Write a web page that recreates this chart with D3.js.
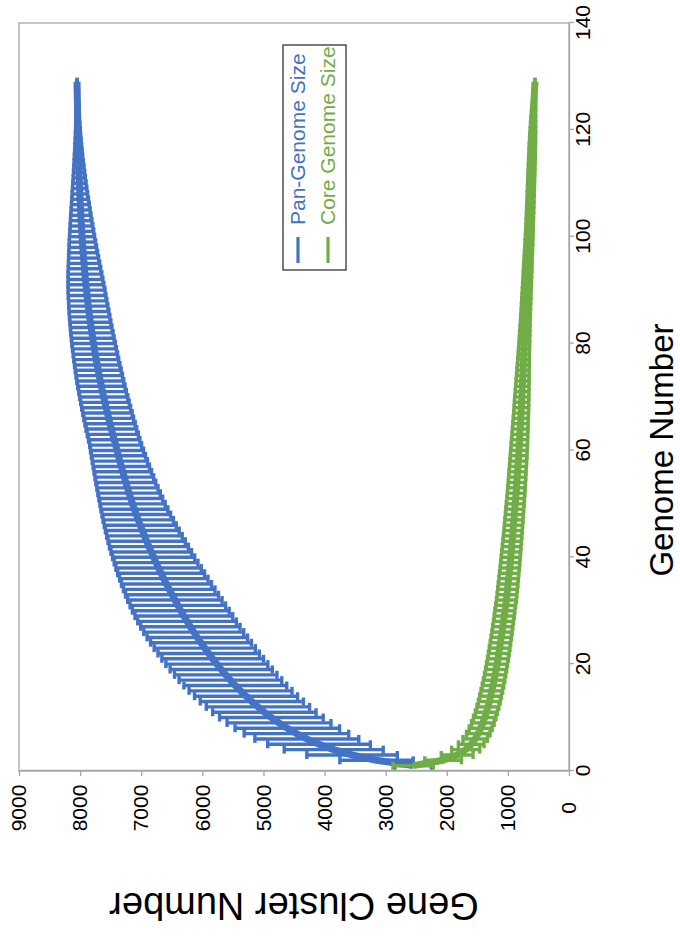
<!DOCTYPE html>
<html>
<head>
<meta charset="utf-8">
<title>Pan / Core Genome</title>
<script src="https://d3js.org/d3.v7.min.js"></script>
<style>
  body { margin: 0; background: #fff; }
  text { font-family: "Liberation Sans", Arial, sans-serif; }
</style>
</head>
<body>
<div id="home"></div>
<script>
// genome count 1..129 for every array below
const panMean = [
  2550, 3150, 3550, 3850, 4090, 4290, 4460, 4610, 4745, 4870,
  4985, 5090, 5190, 5285, 5375, 5460, 5540, 5617, 5691, 5762,
  5830, 5896, 5960, 6022, 6082, 6140, 6196, 6250, 6302, 6352,
  6401, 6449, 6496, 6542, 6587, 6631, 6674, 6716, 6757, 6797,
  6836, 6874, 6911, 6947, 6982, 7016, 7049, 7081, 7112, 7142,
  7171, 7199, 7226, 7252, 7277, 7302, 7326, 7350, 7373, 7396,
  7418, 7442, 7465, 7488, 7510, 7532, 7553, 7574, 7594, 7614,
  7633, 7652, 7670, 7687, 7704, 7720, 7736, 7751, 7766, 7780,
  7794, 7807, 7820, 7832, 7844, 7855, 7866, 7876, 7886, 7895,
  7904, 7913, 7921, 7929, 7936, 7943, 7950, 7956, 7962, 7968,
  7973, 7978, 7983, 7988, 7992, 7996, 8000, 8004, 8008, 8011,
  8014, 8017, 8020, 8023, 8026, 8028, 8030, 8032, 8034, 8036,
  8038, 8040, 8041, 8043, 8044, 8046, 8047, 8049, 8050
];
const panErr = [
  300, 600, 740, 810, 840, 850, 855, 855, 850, 848,
  846, 845, 844, 843, 842, 841, 840, 838, 836, 834,
  832, 830, 828, 825, 822, 818, 813, 807, 800, 792,
  782, 772, 761, 749, 737, 724, 711, 698, 685, 672,
  659, 646, 632, 618, 604, 590, 576, 562, 548, 534,
  522, 511, 500, 490, 480, 470, 461, 452, 443, 434,
  425, 421, 418, 414, 411, 407, 404, 400, 397, 394,
  390, 387, 384, 380, 376, 372, 368, 364, 360, 356,
  351, 346, 341, 336, 331, 326, 320, 314, 308, 302,
  294, 285, 276, 266, 256, 246, 236, 226, 216, 206,
  196, 186, 176, 166, 156, 146, 136, 127, 118, 109,
  100, 92, 84, 76, 69, 62, 56, 50, 44, 39,
  34, 29, 24, 20, 16, 12, 8, 4, 0
];
const coreMean = [
  2550, 2060, 1830, 1690, 1600, 1535, 1485, 1445, 1410, 1380,
  1352, 1327, 1304, 1283, 1263, 1244, 1226, 1209, 1193, 1178,
  1163, 1149, 1135, 1122, 1109, 1096, 1084, 1072, 1060, 1049,
  1036, 1024, 1015, 1006, 997, 988, 979, 970, 962, 954,
  946, 938, 930, 922, 915, 908, 901, 894, 887, 880,
  873, 866, 860, 854, 848, 842, 836, 830, 824, 819,
  814, 809, 804, 799, 794, 789, 784, 780, 776, 772,
  768, 764, 760, 756, 752, 748, 744, 740, 736, 732,
  728, 724, 720, 716, 712, 708, 704, 700, 696, 692,
  688, 684, 680, 676, 672, 668, 664, 660, 656, 652,
  648, 645, 642, 639, 636, 633, 630, 627, 624, 621,
  618, 615, 612, 609, 606, 603, 600, 597, 594, 591,
  588, 585, 582, 578, 574, 570, 566, 561, 556
];
const coreErr = [
  330, 300, 260, 230, 210, 200, 192, 188, 185, 183,
  181, 180, 179, 178, 177, 176, 175, 174, 173, 172,
  171, 170, 169, 168, 167, 166, 165, 165, 164, 164,
  163, 163, 162, 162, 161, 160, 159, 158, 157, 156,
  155, 154, 153, 152, 151, 150, 149, 148, 147, 146,
  145, 144, 143, 142, 141, 140, 139, 138, 137, 136,
  134, 132, 130, 128, 126, 124, 122, 120, 118, 116,
  113, 110, 107, 104, 101, 98, 95, 92, 90, 88,
  86, 84, 82, 80, 78, 77, 76, 75, 74, 73,
  72, 71, 70, 69, 68, 67, 66, 65, 64, 63,
  62, 61, 60, 60, 59, 59, 58, 58, 57, 57,
  56, 56, 55, 55, 54, 53, 52, 50, 48, 46,
  43, 40, 36, 32, 27, 21, 15, 8, 0
];
const xTicks = [0, 20, 40, 60, 80, 100, 120, 140];
const yTicks = [0, 1000, 2000, 3000, 4000, 5000, 6000, 7000, 8000, 9000];
const seriesNames = ["Pan-Genome Size", "Core Genome Size"];
const colors = ["#4472C4", "#70AD47"];

const pageW = 680, pageH = 937;
const svg = d3.select("#home").append("svg")
  .attr("width", pageW)
  .attr("height", pageH);

// chart is drawn upright in a 937 x 680 frame, then turned a quarter left
const g = svg.append("g")
  .attr("transform", "translate(0," + pageH + ") rotate(-90)");

const x = d3.scaleLinear().domain([0, 140]).range([166, 914]);
const y = d3.scaleLinear().domain([0, 9000]).range([569, 19]);

// plot area border
g.append("rect")
  .attr("x", x(0)).attr("y", y(9000))
  .attr("width", x(140) - x(0)).attr("height", y(0) - y(9000))
  .attr("fill", "none").attr("stroke", "#a6a6a6").attr("stroke-width", 1.3);

const xAxis = d3.axisBottom(x).tickValues(xTicks).tickSize(5).tickSizeOuter(0)
  .tickFormat(d3.format("d"));
const gx = g.append("g").attr("transform", "translate(0," + y(0) + ")").call(xAxis);
gx.selectAll("text")
  .attr("y", 6.5)
  .attr("font-size", 21).attr("fill", "#000")
  .style("font-family", "'Liberation Sans', Arial, sans-serif");

const yAxis = d3.axisLeft(y).tickValues(yTicks).tickSize(5).tickSizeOuter(0)
  .tickFormat(d3.format("d"));
const gy = g.append("g").attr("transform", "translate(" + x(0) + ",0)").call(yAxis);
gy.selectAll("text")
  .attr("x", -37).attr("text-anchor", "middle")
  .attr("font-size", 21).attr("fill", "#000")
  .style("font-family", "'Liberation Sans', Arial, sans-serif");

g.selectAll(".domain, .tick line").attr("stroke", "#a6a6a6").attr("stroke-width", 1.3);

// mean curve plus capped error bars, one per genome count
function drawSeries(means, errs, color) {
  const data = means.map((m, i) => ({ n: i + 1, m: m, e: errs[i] }));
  const s = g.append("g").attr("stroke", color).attr("fill", "none").attr("stroke-width", 3.4);
  const cap = 4;
  s.selectAll("line.bar").data(data).enter().append("line")
    .attr("class", "bar")
    .attr("x1", d => x(d.n)).attr("x2", d => x(d.n))
    .attr("y1", d => y(d.m - d.e)).attr("y2", d => y(d.m + d.e));
  s.selectAll("line.capLo").data(data).enter().append("line")
    .attr("class", "capLo")
    .attr("x1", d => x(d.n) - cap).attr("x2", d => x(d.n) + cap)
    .attr("y1", d => y(d.m - d.e)).attr("y2", d => y(d.m - d.e));
  s.selectAll("line.capHi").data(data).enter().append("line")
    .attr("class", "capHi")
    .attr("x1", d => x(d.n) - cap).attr("x2", d => x(d.n) + cap)
    .attr("y1", d => y(d.m + d.e)).attr("y2", d => y(d.m + d.e));
  s.append("path")
    .datum(data)
    .attr("stroke-width", 7)
    .attr("stroke-linejoin", "round")
    .attr("d", d3.line().x(d => x(d.n)).y(d => y(d.m)));
}
drawSeries(panMean, panErr, colors[0]);
drawSeries(coreMean, coreErr, colors[1]);

// axis titles
g.append("text")
  .attr("transform", "translate(44," + (y(0) + y(9000)) / 2 + ") rotate(-90)")
  .attr("text-anchor", "middle")
  .attr("font-size", 38)
  .text("Gene Cluster Number");
g.append("text")
  .attr("x", 487).attr("y", 673)
  .attr("text-anchor", "middle")
  .attr("font-size", 33)
  .text("Genome Number");

// legend
const lg = g.append("g");
lg.append("rect")
  .attr("x", 667).attr("y", 283).attr("width", 225).attr("height", 63)
  .attr("fill", "#fff").attr("stroke", "#333").attr("stroke-width", 1.3);
seriesNames.forEach((name, i) => {
  const ly = 298 + i * 30;
  lg.append("line")
    .attr("x1", 674).attr("x2", 700).attr("y1", ly).attr("y2", ly)
    .attr("stroke", colors[i]).attr("stroke-width", 3.2);
  lg.append("text")
    .attr("x", 712).attr("y", ly).attr("dy", "0.35em")
    .attr("font-size", 21).attr("fill", colors[i])
    .text(name);
});
</script>
</body>
</html>
